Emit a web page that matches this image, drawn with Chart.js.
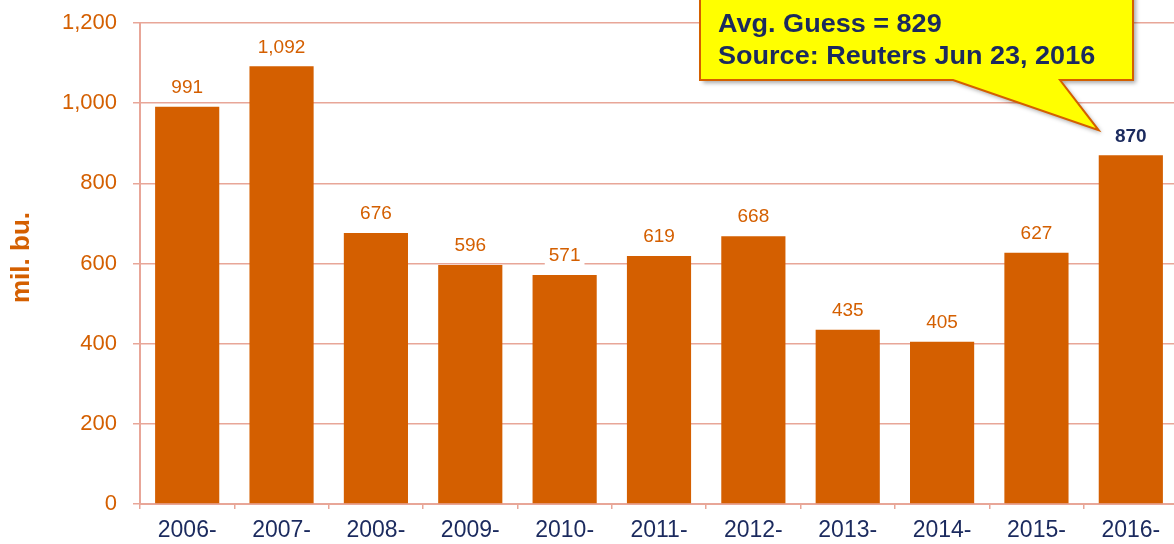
<!DOCTYPE html>
<html>
<head>
<meta charset="utf-8">
<script src="https://cdn.jsdelivr.net/npm/chart.js@4"></script>
<style>
  html, body { margin: 0; padding: 0; background: #fff; overflow: hidden; }
  #wrap { width: 1178px; height: 544px; }
</style>
</head>
<body>
<div id="wrap"><canvas id="chart" width="1178" height="544"></canvas></div>
<script>
const years = ["2006-", "2007-", "2008-", "2009-", "2010-", "2011-", "2012-", "2013-", "2014-", "2015-", "2016-"];
const stocks = [991, 1092, 676, 596, 571, 619, 668, 435, 405, 627, 870];
const yTitle = "mil. bu.";
const calloutLines = ["Avg. Guess = 829", "Source: Reuters Jun 23, 2016"];

const orange = "#D45F00";
const grid = "#E8A698";
const navy = "#1B2A5E";
const font = "'Liberation Sans', Arial, sans-serif";

// value labels above each bar, last one bold navy
const barLabels = {
  id: "barLabels",
  afterDatasetsDraw(chart) {
    const ctx = chart.ctx;
    const meta = chart.getDatasetMeta(0);
    ctx.save();
    ctx.textAlign = "center";
    ctx.textBaseline = "middle";
    meta.data.forEach((bar, i) => {
      const last = i === stocks.length - 1;
      const text = stocks[i].toLocaleString("en-US");
      ctx.font = (last ? "bold " : "") + "19px " + font;
      const w = ctx.measureText(text).width;
      const y = bar.y - 19;
      ctx.fillStyle = "#fff";
      ctx.fillRect(bar.x - w / 2 - 4, y - 10, w + 8, 20);
      ctx.fillStyle = last ? navy : orange;
      ctx.fillText(text, bar.x, y);
    });
    ctx.restore();
  }
};

// rotated axis title, a bit above the middle like the original
const axisTitle = {
  id: "axisTitle",
  afterDraw(chart) {
    const ctx = chart.ctx;
    const area = chart.chartArea;
    ctx.save();
    ctx.translate(22, (area.top + area.bottom) / 2 - 6);
    ctx.rotate(-Math.PI / 2);
    ctx.textAlign = "center";
    ctx.textBaseline = "middle";
    ctx.fillStyle = orange;
    ctx.font = "bold 26px " + font;
    ctx.fillText(yTitle, 0, 0);
    ctx.restore();
  }
};

// yellow speech bubble pointing at the last bar
const callout = {
  id: "callout",
  afterDraw(chart) {
    const ctx = chart.ctx;
    const bar = chart.getDatasetMeta(0).data[stocks.length - 1];
    const tipX = bar.x - bar.width / 2;
    const tipY = bar.y - 25;
    const left = 700, right = 1133, top = -10, bottom = 80;
    const b1 = 953, b2 = 1060;
    ctx.save();
    ctx.beginPath();
    ctx.moveTo(left, top);
    ctx.lineTo(right, top);
    ctx.lineTo(right, bottom);
    ctx.lineTo(b2, bottom);
    ctx.lineTo(tipX, tipY);
    ctx.lineTo(b1, bottom);
    ctx.lineTo(left, bottom);
    ctx.closePath();
    ctx.shadowColor = "rgba(0,0,0,0.35)";
    ctx.shadowOffsetX = 3;
    ctx.shadowOffsetY = 3;
    ctx.shadowBlur = 4;
    ctx.fillStyle = "#FFFF00";
    ctx.fill();
    ctx.shadowColor = "transparent";
    ctx.lineWidth = 2;
    ctx.strokeStyle = orange;
    ctx.stroke();
    ctx.fillStyle = navy;
    ctx.font = "bold 26px " + font;
    ctx.textBaseline = "middle";
    ctx.translate(718, 0);
    ctx.scale(1.04, 1);
    ctx.fillText(calloutLines[0], 0, 25);
    ctx.fillText(calloutLines[1], 0, 57);
    ctx.restore();
  }
};

new Chart(document.getElementById("chart"), {
  type: "bar",
  data: {
    labels: years,
    datasets: [{
      data: stocks,
      backgroundColor: orange,
      categoryPercentage: 1,
      barPercentage: 0.68
    }]
  },
  options: {
    responsive: false,
    animation: false,
    layout: { padding: { top: 23, right: 0, left: 0, bottom: 0 } },
    plugins: { legend: { display: false }, tooltip: { enabled: false } },
    scales: {
      x: {
        afterFit(scale) { scale.height = 40; scale.paddingLeft = 0; scale.paddingRight = 0; },
        grid: { offset: true, drawOnChartArea: false, color: grid, tickLength: 5, lineWidth: 1.5 },
        border: { color: grid, width: 2 },
        ticks: { color: navy, font: { family: font, size: 23 }, padding: 8 }
      },
      y: {
        min: 0,
        max: 1200,
        afterFit(scale) { scale.width = 140; scale.paddingTop = 0; scale.paddingBottom = 0; },
        grid: { color: grid, lineWidth: 1.5, tickLength: 7 },
        border: { color: grid, width: 2 },
        ticks: {
          stepSize: 200,
          color: orange,
          padding: 16,
          font: { family: font, size: 22 },
          callback: v => v.toLocaleString("en-US")
        }
      }
    }
  },
  plugins: [barLabels, axisTitle, callout]
});
</script>
</body>
</html>
